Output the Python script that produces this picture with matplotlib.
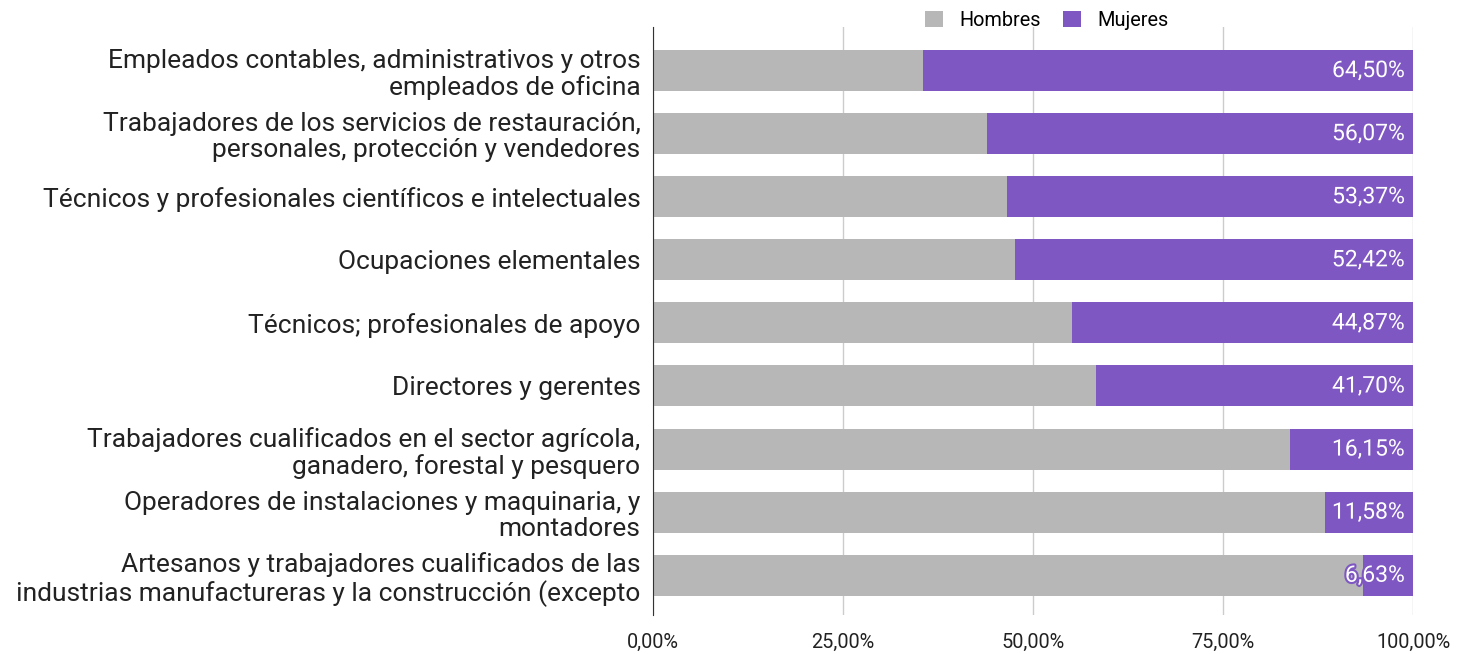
import numpy as np
import matplotlib.pyplot as plt
import matplotlib.patheffects as pe
from matplotlib.ticker import FuncFormatter

plt.rcParams['font.family'] = ['Roboto', 'DejaVu Sans']

categorias = [
    "Empleados contables, administrativos y otros\nempleados de oficina",
    "Trabajadores de los servicios de restauración,\npersonales, protección y vendedores",
    "Técnicos y profesionales científicos e intelectuales",
    "Ocupaciones elementales",
    "Técnicos; profesionales de apoyo",
    "Directores y gerentes",
    "Trabajadores cualificados en el sector agrícola,\nganadero, forestal y pesquero",
    "Operadores de instalaciones y maquinaria, y\nmontadores",
    "Artesanos y trabajadores cualificados de las\nindustrias manufactureras y la construcción (excepto",
]
mujeres = [64.50, 56.07, 53.37, 52.42, 44.87, 41.70, 16.15, 11.58, 6.63]
hombres = [100 - m for m in mujeres]
xticks = [0, 25, 50, 75, 100]

gris = '#b7b7b7'
morado = '#7e57c2'

fig = plt.figure(figsize=(14.6, 6.54), dpi=100)
ax = fig.add_axes([653/1460, 1 - 615/654, 760/1460, (615-27)/654])

y = np.arange(len(categorias))
ax.barh(y, hombres, height=0.65, color=gris, label='Hombres', zorder=2)
ax.barh(y, mujeres, left=hombres, height=0.65, color=morado, label='Mujeres', zorder=2)

for yi, m in zip(y, mujeres):
    t = ax.text(98.9, yi, f"{m:.2f}%".replace('.', ','), ha='right', va='center',
                color='white', fontsize=16.5, zorder=3)
    t.set_path_effects([pe.withStroke(linewidth=3, foreground=morado)])

ax.set_xlim(0, 100)
ax.set_ylim(8.63, -0.69)
ax.set_yticks(y)
ax.set_yticklabels(categorias, fontsize=19.0, color='#222222', linespacing=1.12)
ax.set_xticks(xticks)
ax.xaxis.set_major_formatter(FuncFormatter(lambda v, p: f"{v:.2f}%".replace('.', ',')))
ax.tick_params(axis='x', length=0, pad=13, labelsize=14.3, labelcolor='#222222')
ax.tick_params(axis='y', length=0, pad=9)

ax.grid(axis='x', color='#cccccc', linewidth=1, zorder=0)
for s in ['top', 'right', 'bottom']:
    ax.spines[s].set_visible(False)
ax.spines['left'].set_color('#333333')
ax.spines['left'].set_zorder(4)

fig.legend(loc='upper center', bbox_to_anchor=(0.717, 1.011), ncol=2, frameon=False,
           fontsize=14.3, handlelength=0.9, handleheight=0.9, columnspacing=1.15,
           handletextpad=0.8)

fig.savefig('out.png', dpi=100)
